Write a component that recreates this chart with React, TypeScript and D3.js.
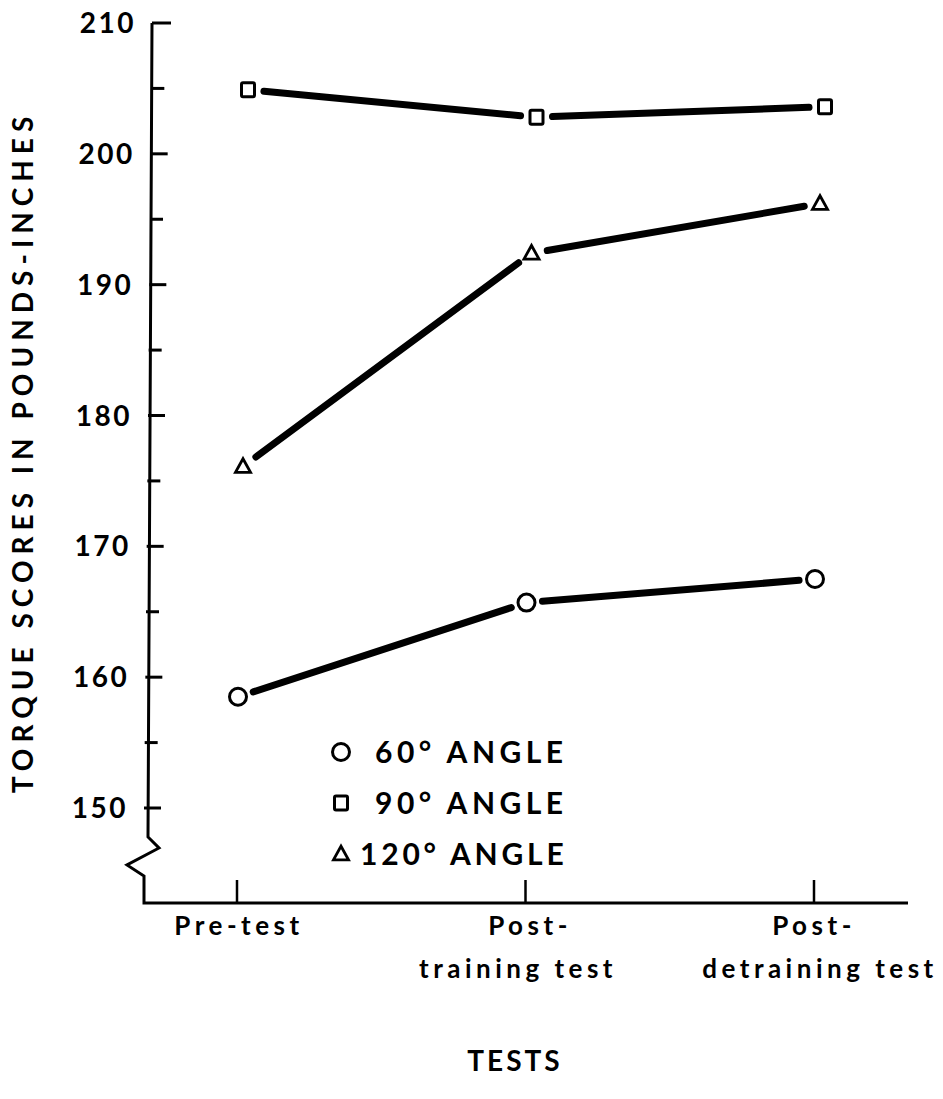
import React from "react";
import * as d3 from "d3";

const categories = ["Pre-test", "Post-training test", "Post-detraining test"];
const categoryLines = [["Pre-test"], ["Post-", "training test"], ["Post-", "detraining test"]];
const seriesNames = ["60° ANGLE", "90° ANGLE", "120° ANGLE"];
const angle60 = [158.5, 165.7, 167.5];
const angle90 = [204.9, 202.8, 203.6];
const angle120 = [176.1, 192.4, 196.2];
const yMajorTicks = [150, 160, 170, 180, 190, 200, 210];
const yMinorTicks = [155, 165, 175, 185, 195, 205];

const W = 943;
const H = 1099;
const FONT = "Lato, 'DejaVu Sans', sans-serif";

export default function App() {
  const x = d3.scalePoint<string>().domain(categories).range([237, 814]);
  const y = d3.scaleLinear().domain([150, 210]).range([808, 23]);
  const axisX = 147;
  const baseY = 903;

  const series = [
    { name: seriesNames[0], values: angle60, shape: "circle", dx: 1 },
    { name: seriesNames[1], values: angle90, shape: "square", dx: 11 },
    { name: seriesNames[2], values: angle120, shape: "triangle", dx: 6 },
  ];

  const line = d3.line<[number, number]>();

  const marker = (shape: string, cx: number, cy: number, key: string) => {
    if (shape === "circle")
      return <circle key={key} cx={cx} cy={cy} r={8.5} fill="white" stroke="black" strokeWidth={3} />;
    if (shape === "square")
      return <rect key={key} x={cx - 6.5} y={cy - 7} width={13} height={14} rx={1.5} fill="white" stroke="black" strokeWidth={3} />;
    const s = 13;
    const pts: [number, number][] = [
      [cx, cy - s * 0.6],
      [cx - s * 0.58, cy + s * 0.45],
      [cx + s * 0.58, cy + s * 0.45],
    ];
    return <path key={key} d={line(pts) + "Z"} fill="white" stroke="black" strokeWidth={2.8} strokeLinejoin="miter" />;
  };

  const zig: [number, number][] = [
    [axisX + 5, y(210)],
    [axisX + 1, 837],
    [axisX + 12, 848],
    [axisX - 20, 865],
    [axisX - 3, 876],
    [axisX - 3, baseY],
    [908, baseY],
  ];

  const labelCenters = [
    [237],
    [528, 516],
    [812, 818],
  ];

  return (
    <svg width={W} height={H} style={{ position: "absolute", left: 0, top: 0, background: "white" }} fontFamily={FONT}>
      <rect x={0} y={0} width={W} height={H} fill="white" />
      {/* axes */}
      <path d={line(zig) ?? ""} fill="none" stroke="black" strokeWidth={3} strokeLinejoin="miter" />
      <line x1={axisX + 5} x2={axisX + 24} y1={y(210)} y2={y(210)} stroke="black" strokeWidth={3} />
      {yMajorTicks.filter((t) => t !== 210).map((t) => {
        const off = ((210 - t) / 60) * 8;
        return (
          <line key={"M" + t} x1={axisX + 5 - off} x2={axisX + 22 - off} y1={y(t)} y2={y(t)} stroke="black" strokeWidth={3} />
        );
      })}
      {yMinorTicks.map((t) => {
        const off = ((210 - t) / 60) * 8;
        return (
          <line key={"m" + t} x1={axisX + 5 - off} x2={axisX + 18 - off} y1={y(t)} y2={y(t)} stroke="black" strokeWidth={3} />
        );
      })}
      {yMajorTicks.map((t) => (
        <text key={"l" + t} x={136 - ((210 - t) / 60) * 8} y={y(t)} dy="0.36em" textAnchor="end" fontSize={28} fontWeight={700} letterSpacing={2.5}>
          {t}
        </text>
      ))}
      {categories.map((c) => (
        <line key={"xt" + c} x1={x(c)!} x2={x(c)!} y1={baseY} y2={baseY - 23} stroke="black" strokeWidth={2.5} />
      ))}
      {/* x labels */}
      {categories.map((c, i) => (
        <text key={"xl" + c} textAnchor="middle" fontSize={26} fontWeight={700} letterSpacing={4.5}>
          {categoryLines[i].map((ln, j) => (
            <tspan key={j} x={labelCenters[i][j] + 2} y={935 + j * 43}>
              {ln}
            </tspan>
          ))}
        </text>
      ))}
      <text x={515} y={1071} textAnchor="middle" fontSize={28} fontWeight={700} letterSpacing={3}>
        TESTS
      </text>
      <text
        transform={`translate(33, 452) rotate(-90)`}
        textAnchor="middle"
        fontSize={28}
        fontWeight={700}
        letterSpacing={6}
      >
        TORQUE SCORES IN POUNDS-INCHES
      </text>
      {/* lines */}
      {series.map((s) => {
        const pts = s.values.map((v, i) => [x(categories[i])! + s.dx, y(v)] as [number, number]);
        const segs = [];
        for (let i = 0; i < pts.length - 1; i++) {
          const [x1, y1] = pts[i];
          const [x2, y2] = pts[i + 1];
          const len = Math.hypot(x2 - x1, y2 - y1);
          const ux = (x2 - x1) / len;
          const uy = (y2 - y1) / len;
          const g = 16;
          segs.push(
            <path
              key={s.name + i}
              d={line([
                [x1 + ux * g, y1 + uy * g],
                [x2 - ux * g, y2 - uy * g],
              ]) ?? ""}
              stroke="black"
              strokeWidth={7}
              strokeLinecap="round"
              fill="none"
            />
          );
        }
        return <g key={s.name}>{segs}</g>;
      })}
      {series.map((s) => (
        <g key={"mk" + s.name}>
          {s.values.map((v, i) => marker(s.shape, x(categories[i])! + s.dx, y(v), s.name + i))}
        </g>
      ))}
      {/* legend */}
      {series.map((s, i) => (
        <g key={"lg" + s.name}>
          {marker(s.shape, 341, 752 + i * 51, "lgm" + i)}
          <text x={i === 2 ? 360 : 375} y={752 + i * 51} dy="0.36em" fontSize={30} fontWeight={700} letterSpacing={i === 2 ? 3.8 : 4.5}>
            {s.name}
          </text>
        </g>
      ))}
    </svg>
  );
}
